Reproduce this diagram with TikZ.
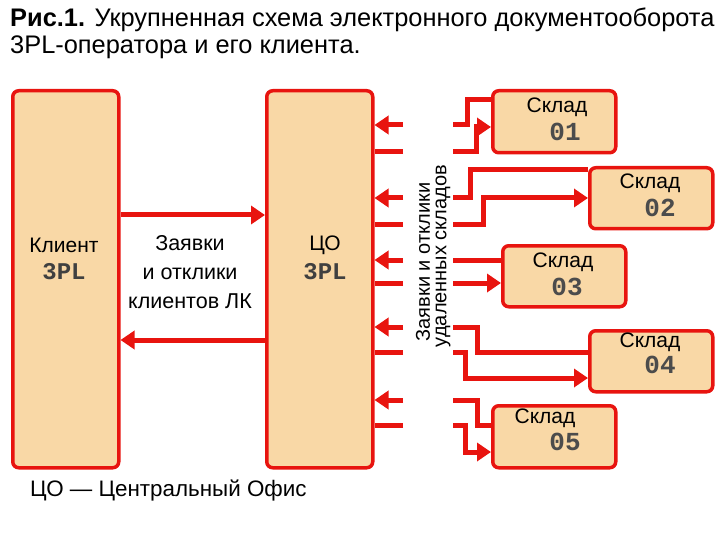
\documentclass[tikz,border=0pt]{standalone}
\usepackage{fontspec}
\setmainfont{Liberation Sans}
\newfontfamily\monof{Liberation Mono}
\usetikzlibrary{arrows.meta}
\definecolor{boxred}{HTML}{E8140F}
\definecolor{boxfill}{HTML}{F9D8A6}
\begin{document}
\begin{tikzpicture}[x=1pt,y=-1pt,
  box/.style={draw=boxred, line width=3.5pt, fill=boxfill, rounded corners=6pt, inner sep=0pt, anchor=north west},
  link/.style={draw=boxred, line width=5pt},
  arr/.style={link, -{Triangle[length=14pt,width=18pt]}},
  lbl/.style={font=\fontsize{21}{25}\selectfont, align=center, inner sep=0pt},
  num/.style={font=\monof\bfseries\fontsize{24}{26}\selectfont, text=black!75, inner sep=0pt},
  dig/.style={font=\monof\bfseries\fontsize{26}{28}\selectfont, text=black!70, inner sep=0pt},
  vlbl/.style={font=\fontsize{20}{22}\selectfont, rotate=90, inner sep=0pt}]
\useasboundingbox (0,0) rectangle (720,540);
% title
\node[anchor=west, inner sep=0pt, font=\fontsize{25.4}{29}\selectfont] (title1) at (10,20) {\textbf{Рис.1.} Укрупненная схема электронного документооборота};
\node[anchor=west, inner sep=0pt, font=\fontsize{25.4}{29}\selectfont] (title2) at (10,47) {3PL-оператора и его клиента.};
% main boxes
\node[box, minimum width=106pt, minimum height=377pt] (client) at (11,89) {};
\node[box, minimum width=106pt, minimum height=377pt] (co) at (265,89) {};
\node[lbl] (clientt) at (64,245) {Клиент};
\node[num] (client3pl) at (64,272) {3PL};
\node[lbl] (cot) at (325,245) {ЦО};
\node[num] (co3pl) at (325,272) {3PL};
\node[lbl, font=\fontsize{21.5}{29}\selectfont] (req) at (190,272) {Заявки\\и отклики\\клиентов ЛК};
\coordinate (ct) at (0,215);
\coordinate (cb) at (0,340);
\draw[arr] (client.east |- ct) -- (co.west |- ct);
\draw[arr] (co.west |- cb) -- (client.east |- cb);
% warehouses
\node[box, minimum width=123pt, minimum height=62pt] (w1) at (491,89) {};
\node[box, minimum width=123pt, minimum height=61pt] (w2) at (588,166) {};
\node[box, minimum width=123pt, minimum height=61pt] (w3) at (501,244) {};
\node[box, minimum width=123pt, minimum height=61pt] (w4) at (588,329) {};
\node[box, minimum width=123pt, minimum height=62pt] (w5) at (491,404) {};
\node[lbl] (w1a) at (557,107) {Склад};
\node[dig] (w1b) at (565,132) {01};
\node[lbl] (w2a) at (650,183) {Склад};
\node[dig] (w2b) at (660,208) {02};
\node[lbl] (w3a) at (563,262) {Склад};
\node[dig] (w3b) at (567,287) {03};
\node[lbl] (w4a) at (650,342) {Склад};
\node[dig] (w4b) at (660,365) {04};
\node[lbl] (w5a) at (545,418) {Склад};
\node[dig] (w5b) at (565,442) {05};
% stubs at CO
\foreach \y/\n in {125/1,198/2,260/3,327/4,400/5}{
  \coordinate (su\n) at (403,\y);
  \draw[arr] (su\n) -- (co.east |- su\n);
}
\foreach \y/\n in {152/1,225/2,283/3,352/4,425/5}{
  \coordinate (sl\n) at (403,\y);
  \draw[link] (sl\n) -- (co.east |- sl\n);
}
% vertical labels
\node[vlbl] (vl1) at (423,262) {Заявки и отклики};
\node[vlbl] (vl2) at (443,256) {удаленных складов};
% right-hand connectors
\coordinate (r1u) at (453,125); \coordinate (r1l) at (453,152);
\coordinate (r2u) at (453,198); \coordinate (r2l) at (453,225);
\coordinate (r3u) at (453,260); \coordinate (r3l) at (453,283);
\coordinate (r4u) at (453,327); \coordinate (r4l) at (453,352);
\coordinate (r5u) at (453,400); \coordinate (r5l) at (453,425);
\draw[link, line join=miter] (r1u) -- (467,125) -- (467,100) -- (w1.west |- 0,100);
\draw[arr, line join=miter] (r1l) -- (476,152) -- (476,127) -- (w1.west |- 0,127);
\draw[link, line join=miter] (r2u) -- (470,198) -- (470,170) -- (w2.west |- 0,170);
\draw[arr, line join=miter] (r2l) -- (483,225) -- (483,198) -- (w2.west |- 0,198);
\draw[link] (r3u) -- (w3.west |- r3u);
\draw[arr] (r3l) -- (w3.west |- r3l);
\draw[link, line join=miter] (r4u) -- (477,327) -- (477,352) -- (w4.west |- 0,352);
\draw[arr, line join=miter] (r4l) -- (465,352) -- (465,378) -- (w4.west |- 0,378);
\draw[link, line join=miter] (r5u) -- (477,400) -- (477,425) -- (w5.west |- 0,425);
\draw[arr, line join=miter] (r5l) -- (465,425) -- (465,452) -- (w5.west |- 0,452);
% footnote
\node[anchor=west, inner sep=0pt, font=\fontsize{22.4}{26}\selectfont] (foot) at (30,491) {ЦО — Центральный Офис};
\end{tikzpicture}
\end{document}
